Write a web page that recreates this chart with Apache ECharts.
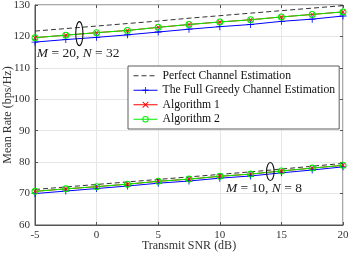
<!DOCTYPE html>
<html>
<head>
<meta charset="utf-8">
<script src="https://cdn.jsdelivr.net/npm/echarts@6/dist/echarts.min.js"></script>
<style>
html,body{margin:0;padding:0;background:#fff;}
#c{width:349px;height:254px;}
</style>
</head>
<body>
<div id="c"></div>
<script>
// ---- data ----
const snr = [-5, -2.5, 0, 2.5, 5, 7.5, 10, 12.5, 15, 17.5, 20];

const perfectHi = [121.7, 122.5, 123.3, 124.1, 124.9, 125.8, 126.6, 127.4, 128.2, 129.0, 129.8];
const greedyHi  = [118.2, 119.0, 119.7, 120.5, 121.4, 122.3, 123.1, 123.8, 124.8, 125.5, 126.5];
const alg1Hi    = [119.6, 120.4, 121.2, 121.9, 122.9, 123.8, 124.6, 125.3, 126.2, 127.0, 127.8];
const alg2Hi    = [119.6, 120.4, 121.2, 121.9, 122.9, 123.8, 124.6, 125.3, 126.2, 127.0, 127.8];

const perfectLo = [71.3, 72.1, 72.9, 73.7, 74.5, 75.3, 76.1, 76.9, 77.8, 78.7, 79.6];
const greedyLo  = [70.0, 70.8, 71.6, 72.4, 73.3, 74.0, 74.9, 75.6, 76.6, 77.5, 78.5];
const alg1Lo    = [70.7, 71.5, 72.2, 73.0, 73.9, 74.6, 75.5, 76.2, 77.2, 78.1, 79.0];
const alg2Lo    = [70.7, 71.5, 72.2, 73.0, 73.9, 74.6, 75.5, 76.2, 77.2, 78.1, 79.0];

const xTicks = [-5, 0, 5, 10, 15, 20];
const yTicks = [60, 70, 80, 90, 100, 110, 120, 130];

const names = ['Perfect Channel Estimation', 'The Full Greedy Channel Estimation', 'Algorithm 1', 'Algorithm 2'];

// annotations (data coords)
const annHi = { ellipse: [-1.4, 120.9], text: [-4.85, 114.6], label: ['M', ' = 20, ', 'N', ' = 32'] };
const annLo = { ellipse: [14.1, 77.0], text: [10.5, 71.6], label: ['M', ' = 10, ', 'N', ' = 8'] };

// ---- chart ----
const zip = (xs, ys) => xs.map((x, i) => [x, ys[i]]);
const SERIF = '"Liberation Serif", "DejaVu Serif", serif';

const plusPath = 'path://M4.4,0H5.6V10H4.4Z M0,4.4H10V5.6H0Z';
const crossPath = 'path://M0,1L1,0L5,4L9,0L10,1L6,5L10,9L9,10L5,6L1,10L0,9L4,5Z';
const ringPath = 'path://M5,0A5,5,0,1,1,5,10A5,5,0,1,1,5,0ZM5,1.5A3.5,3.5,0,1,0,5,8.5A3.5,3.5,0,1,0,5,1.5Z';

function mk(name, data, color, opts) {
  return Object.assign({
    name: name, type: 'line', data: data, xAxisIndex: 0, yAxisIndex: 0,
    lineStyle: { color: color, width: 1 },
    itemStyle: { color: color, borderWidth: 0 },
    animation: false, silent: true
  }, opts);
}

const series = [];
const groups = [
  [perfectHi, greedyHi, alg1Hi, alg2Hi],
  [perfectLo, greedyLo, alg1Lo, alg2Lo]
];
groups.forEach(g => {
  series.push(mk(names[0], zip(snr, g[0]), '#333333', { symbol: 'circle', symbolSize: 2, showSymbol: false, lineStyle: { color: '#333333', width: 1, type: [5, 3] } }));
  series.push(mk(names[1], zip(snr, g[1]), '#0000ff', { symbol: plusPath, symbolSize: 7 }));
  series.push(mk(names[2], zip(snr, g[2]), '#ff0000', { symbol: crossPath, symbolSize: 5 }));
  series.push(mk(names[3], zip(snr, g[3]), '#00ee00', { symbol: ringPath, symbolSize: 7 }));
});

const chart = echarts.init(document.getElementById('c'), null, { renderer: 'canvas' });
const axisCol = '#555555';
const labelCol = '#333333';

chart.setOption({
  animation: false,
  backgroundColor: '#ffffff',
  grid: { left: 35, right: 6, top: 5, bottom: 29, show: true, borderColor: axisCol, borderWidth: 1, backgroundColor: 'transparent', containLabel: false, outerBoundsMode: 'none' },
  legend: {
    data: [{ name: names[0], itemStyle: { opacity: 0 } }, names[1], names[2], names[3]],
    orient: 'vertical',
    left: 128, top: 66,
    padding: [3, 4, 3, 5],
    itemGap: 1,
    itemWidth: 24, itemHeight: 8,
    lineStyle: { width: 1 },
    backgroundColor: '#ffffff',
    borderColor: '#333333', borderWidth: 0.8, borderRadius: 0,
    textStyle: { fontFamily: SERIF, fontSize: 11.7, color: '#111', lineHeight: 13.5 },
    selectedMode: false
  },
  xAxis: [{
    type: 'value', min: -5, max: 20, interval: 5,
    name: 'Transmit SNR (dB)', nameLocation: 'middle', nameGap: 15, nameMoveOverlap: false,
    nameTextStyle: { fontFamily: SERIF, fontSize: 12, color: labelCol },
    axisLine: { show: true, onZero: false, lineStyle: { color: axisCol, width: 1 } },
    axisTick: { show: true, inside: true, length: 3, lineStyle: { color: axisCol } },
    axisLabel: { fontFamily: SERIF, fontSize: 11, color: labelCol, margin: 5,
      formatter: v => xTicks.includes(v) ? String(v) : '' },
    splitLine: { show: true, lineStyle: { color: '#e6e6e6', width: 1 } }
  }, {
    type: 'value', min: -5, max: 20, interval: 5, position: 'top',
    axisLine: { show: false, onZero: false }, axisLabel: { show: false }, splitLine: { show: false },
    axisTick: { show: true, inside: true, length: 3, lineStyle: { color: axisCol } }
  }],
  yAxis: [{
    type: 'value', min: 60, max: 130, interval: 10,
    name: 'Mean Rate (bps/Hz)', nameLocation: 'middle', nameGap: 21, nameMoveOverlap: false,
    nameTextStyle: { fontFamily: SERIF, fontSize: 12, color: labelCol },
    axisLine: { show: true, onZero: false, lineStyle: { color: axisCol, width: 1 } },
    axisTick: { show: true, inside: true, length: 3, lineStyle: { color: axisCol } },
    axisLabel: { fontFamily: SERIF, fontSize: 11, color: labelCol, margin: 5,
      formatter: v => yTicks.includes(v) ? String(v) : '' },
    splitLine: { show: true, lineStyle: { color: '#e6e6e6', width: 1 } }
  }, {
    type: 'value', min: 60, max: 130, interval: 10, position: 'right',
    axisLine: { show: false, onZero: false }, axisLabel: { show: false }, splitLine: { show: false },
    axisTick: { show: true, inside: true, length: 3, lineStyle: { color: axisCol } }
  }],
  series: series
});

function annotation(a) {
  const c = chart.convertToPixel({ xAxisIndex: 0, yAxisIndex: 0 }, a.ellipse);
  const t = chart.convertToPixel({ xAxisIndex: 0, yAxisIndex: 0 }, a.text);
  return [c, t];
}
const [cHi, tHi] = annotation(annHi);
const [cLo, tLo] = annotation(annLo);

function labelEl(pos, parts) {
  return {
    type: 'text', x: pos[0], y: pos[1], z: 100,
    style: {
      text: '{i|' + parts[0] + '}{n|' + parts[1] + '}{i|' + parts[2] + '}{n|' + parts[3] + '}',
      rich: {
        i: { fontFamily: SERIF, fontStyle: 'italic', fontSize: 13.5, fill: '#222' },
        n: { fontFamily: SERIF, fontSize: 13.5, fill: '#222' }
      },
      verticalAlign: 'middle', align: 'left'
    }
  };
}

chart.setOption({
  graphic: [
    { type: 'ellipse', shape: { cx: cHi[0], cy: cHi[1], rx: 3.6, ry: 12 }, style: { fill: 'none', stroke: '#111', lineWidth: 1.1 }, z: 100 },
    { type: 'ellipse', shape: { cx: cLo[0], cy: cLo[1], rx: 3.8, ry: 9 }, style: { fill: 'none', stroke: '#111', lineWidth: 1.1 }, z: 100 },
    labelEl(tHi, annHi.label),
    labelEl(tLo, annLo.label)
  ]
});
</script>
</body>
</html>
